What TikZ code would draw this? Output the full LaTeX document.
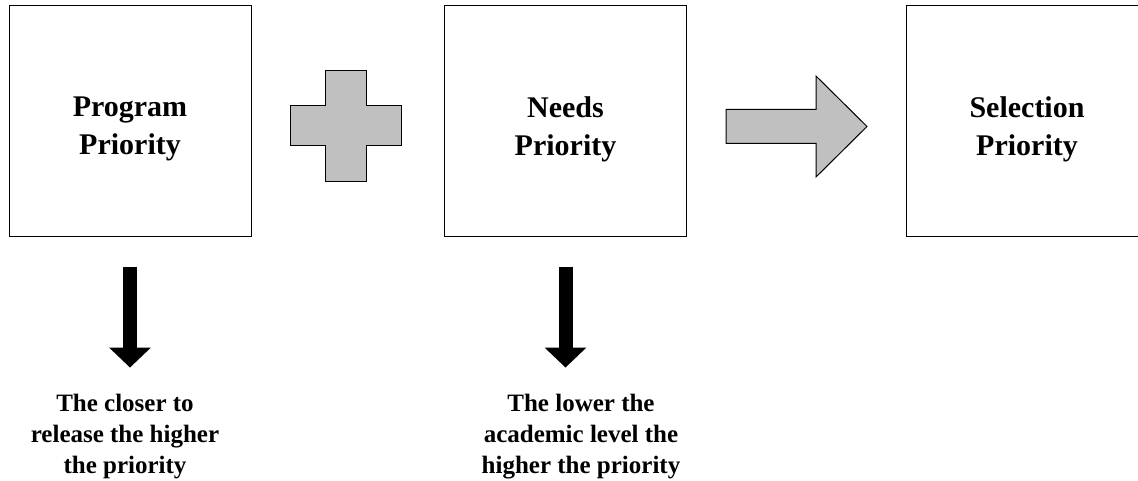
\documentclass[tikz,border=0pt]{standalone}
\usepackage{fontspec}
\setmainfont{Liberation Serif}
\usetikzlibrary{arrows.meta, calc}

\definecolor{shapegray}{RGB}{192,192,192}

\begin{document}
\begin{tikzpicture}[x=1pt, y=-1pt]
  \tikzset{
    box/.style={draw, line width=1pt, minimum width=242pt, minimum height=231pt,
      inner sep=0pt},
    title/.style={font=\bfseries\fontsize{30}{38}\selectfont, align=center,
      inner sep=0pt},
    note/.style={font=\bfseries\fontsize{25}{31}\selectfont, align=center,
      inner sep=0pt},
    blockshape/.style={draw, fill=shapegray, line width=1pt, line join=miter},
    downarrow/.style={line width=14pt,
      -{Triangle[width=42pt, length=20pt, line width=0pt]}}
  }
  \path[use as bounding box, clip] (0,0) rectangle (1138,481);

  % the three priority boxes
  \foreach \name/\cx/\txt in {prog/130/Program, needs/565.5/Needs, sel/1027/Selection}{
    \node[box] (\name) at (\cx,121.5) {};
    \node[title] (\name title) at ($(\name.center)+(0,7.5)$) {\txt\\Priority};
  }

  % plus sign between the first two boxes
  \coordinate (plus) at (345.5,126.5);
  \draw[blockshape] (plus) ++(-20.5,-55.5) -- ++(41,0) -- ++(0,35) -- ++(35,0)
    -- ++(0,40) -- ++(-35,0) -- ++(0,36) -- ++(-41,0) -- ++(0,-36)
    -- ++(-35,0) -- ++(0,-40) -- ++(35,0) -- cycle;

  % block arrow to the result
  \coordinate (res) at (726,126.5);
  \draw[blockshape] (res) ++(0,-17) -- ++(90,0) -- ++(0,-33.5) -- ++(51,50.5)
    -- ++(-51,50.5) -- ++(0,-33.5) -- ++(-90,0) -- cycle;

  % explanations under the boxes
  \node[note] (prognote) at (125,436.5) {The closer to\\release the higher\\the priority};
  \node[note] (needsnote) at (581,436.5) {The lower the\\academic level the\\higher the priority};

  \foreach \name in {prog, needs}{
    \draw[downarrow] ($(\name.south)+(0,29)$) -- ($(\name.south)+(0,130)$);
  }
\end{tikzpicture}
\end{document}
